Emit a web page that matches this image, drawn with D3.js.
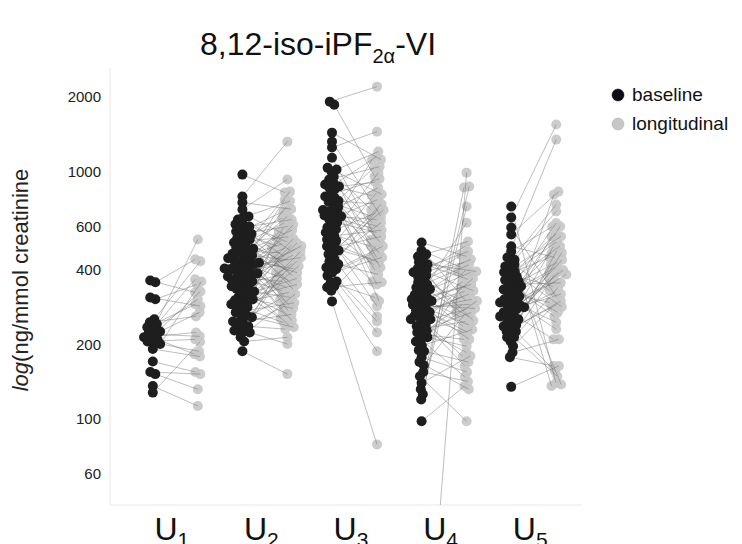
<!DOCTYPE html>
<html>
<head>
<meta charset="utf-8">
<script src="https://cdn.jsdelivr.net/npm/d3@7"></script>
<style>
    body { margin: 0; background: #fff; }
    svg { font-family: Arial, "Liberation Sans", sans-serif; }
</style>
</head>
<body>
<svg id="chart" width="742" height="544"></svg>
<script>
// groups and tick labels
var groups = ['U1', 'U2', 'U3', 'U4', 'U5'];
var yTicks = [60, 100, 200, 400, 600, 1000, 2000];

// baseline / longitudinal pairs, same order in both arrays
var u1Base = [363, 357, 310, 305, 253, 246, 242, 235, 231, 226, 224, 220, 214, 214, 210, 206, 204, 201, 192, 171, 155, 152, 136, 128];
var u1Long = [325, 442, 286, 350, 434, 260, 367, 291, 532, 270, 305, 216, 224, 328, 183, 210, 188, 360, 179, 155, 152, 132, 113, 205];

var u2Base = [972, 793, 750, 703, 659, 653, 640, 622, 612, 600,
    594, 583, 573, 560, 553, 540, 532, 528, 517, 509,
    499, 494, 488, 476, 471, 466, 458, 454, 447, 442,
    438, 434, 428, 422, 418, 414, 406, 403, 399, 395,
    392, 386, 381, 377, 370, 367, 360, 357, 350, 344,
    341, 336, 328, 325, 318, 313, 310, 305, 299, 296,
    291, 286, 283, 278, 270, 265, 262, 258, 253, 248,
    246, 240, 237, 231, 228, 226, 224, 214, 206, 188,
    560, 470, 430, 412, 388, 365, 335, 302];
var u2Long = [823, 1321, 705, 929, 560, 480, 760, 520, 410, 640,
    455, 690, 380, 600, 500, 352, 830, 430, 545, 300,
    395, 620, 335, 470, 580, 260, 440, 720, 365, 510,
    315, 490, 405, 275, 530, 340, 660, 450, 250, 570,
    420, 290, 485, 360, 240, 610, 330, 460, 385, 270,
    535, 310, 425, 255, 445, 370, 590, 280, 400, 325,
    505, 245, 345, 475, 295, 415, 235, 390, 305, 435,
    265, 375, 231, 495, 285, 355, 201, 320, 214, 152,
    650, 390, 540, 770, 460, 500, 515, 350];

var u3Base = [1916, 1862, 1436, 1321, 1250, 1138, 1035, 1019, 1000, 955,
    929, 900, 887, 860, 846, 793, 785, 760, 740, 720,
    700, 690, 684, 665, 659, 640, 622, 610, 595, 573,
    567, 550, 532, 525, 499, 494, 480, 463, 442, 434,
    422, 414, 410, 403, 380, 360, 357, 344, 341, 299,
    870, 810, 755, 705, 650, 585, 515, 470, 390, 330];
var u3Long = [2203, 955, 1117, 660, 1449, 540, 810, 1205, 700, 450,
    1047, 620, 800, 1149, 520, 935, 410, 740, 1038, 350,
    600, 860, 470, 640, 300, 771, 567, 1117, 420, 680,
    499, 580, 360, 820, 442, 547, 286, 700, 260, 622,
    384, 710, 248, 499, 471, 224, 310, 188, 357, 79,
    905, 530, 660, 400, 590, 990, 430, 740, 450, 500];

var u4Base = [517, 463, 454, 430, 422, 414, 392, 392, 374, 357,
    344, 328, 325, 305, 305, 296, 283, 270, 270, 253,
    253, 237, 231, 224, 214, 206, 188, 178, 155, 149,
    132, 126, 120, 98, 480, 445, 405, 380, 365, 350,
    335, 318, 312, 300, 290, 280, 262, 258, 245, 240,
    228, 220, 210, 198, 190, 170, 165, 400, 340, 275,
    5, 140, 300, 260];
var u4Long = [454, 300, 522, 367, 395, 270, 430, 476, 305, 442,
    258, 392, 237, 344, 210, 328, 291, 360, 224, 313,
    278, 186, 248, 270, 197, 300, 170, 155, 142, 98,
    871, 862, 723, 136, 410, 380, 330, 250, 460, 290,
    395, 260, 350, 621, 280, 240, 320, 179, 370, 164,
    290, 210, 148, 230, 340, 132, 265, 500, 420, 305,
    990, 180, 400, 225];

var u5Base = [722, 653, 594, 557, 499, 476, 450, 430, 414, 403,
    392, 377, 367, 360, 344, 341, 334, 325, 318, 313,
    305, 300, 296, 291, 286, 283, 278, 270, 265, 260,
    258, 253, 246, 237, 226, 226, 214, 214, 206, 197,
    186, 178, 135, 380, 350, 310, 440, 290, 240, 275,
    395, 330, 365, 420, 250, 232];
var u5Long = [140, 1548, 310, 830, 450, 599, 1346, 736, 284, 547,
    690, 344, 500, 138, 410, 260, 430, 620, 296, 808,
    390, 231, 471, 360, 547, 246, 499, 384, 210, 325,
    440, 470, 156, 392, 300, 380, 149, 420, 340, 283,
    210, 164, 164, 520, 355, 600, 136, 400, 480, 320,
    450, 270, 560, 330, 370, 290];

var baseSeries = [u1Base, u2Base, u3Base, u4Base, u5Base];
var longSeries = [u1Long, u2Long, u3Long, u4Long, u5Long];

var svg = d3.select('#chart');

var plotLeft = 110, plotRight = 582, plotTop = 68, plotBottom = 505;

var x = d3.scalePoint()
    .domain(groups)
    .range([130, 578])
    .padding(0.5);

var y = d3.scaleLog()
    .domain([45, 2620])
    .range([plotBottom, plotTop]);

var baseShift = -22;
var longShift = 23;
var r = 5;

// simple swarm: y fixed, x pushed apart by collision (dots may overlap a bit)
function swarm(values, cx) {
    var nodes = values.map(function (v, i) {
        return { v: v, i: i, x: cx, y: y(v), fy: y(v) };
    });
    var sim = d3.forceSimulation(nodes)
        .force('x', d3.forceX(cx).strength(0.22))
        .force('collide', d3.forceCollide(2.7))
        .stop();
    for (var k = 0; k < 300; k++) sim.tick();
    return nodes;
}

// axis lines
svg.append('line')
    .attr('x1', plotLeft).attr('x2', plotLeft)
    .attr('y1', plotTop).attr('y2', plotBottom)
    .attr('stroke', '#e8e8e8');
svg.append('line')
    .attr('x1', plotLeft).attr('x2', plotRight)
    .attr('y1', plotBottom).attr('y2', plotBottom)
    .attr('stroke', '#e8e8e8');

svg.append('clipPath')
    .attr('id', 'plotClip')
    .append('rect')
    .attr('x', plotLeft).attr('y', 60)
    .attr('width', 640 - plotLeft).attr('height', plotBottom - 60);

var plot = svg.append('g').attr('clip-path', 'url(#plotClip)');

var longLayer = plot.append('g');
var pairLayer = plot.append('g');
var baseLayer = plot.append('g');

groups.forEach(function (g, gi) {
    var cx = x(g);
    var bNodes = swarm(baseSeries[gi], cx + baseShift);
    var lNodes = swarm(longSeries[gi], cx + longShift);

    longLayer.selectAll(null)
        .data(lNodes)
        .enter()
        .append('circle')
        .attr('cx', function (d) { return d.x; })
        .attr('cy', function (d) { return d.y; })
        .attr('r', r)
        .attr('fill', '#c6c6c6')
        .attr('fill-opacity', 0.9);

    pairLayer.selectAll(null)
        .data(d3.zip(bNodes, lNodes))
        .enter()
        .append('line')
        .attr('x1', function (d) { return d[0].x; })
        .attr('y1', function (d) { return d[0].y; })
        .attr('x2', function (d) { return d[1].x; })
        .attr('y2', function (d) { return d[1].y; })
        .attr('stroke', '#6e6e6e')
        .attr('stroke-opacity', 0.75)
        .attr('stroke-width', 0.6);

    baseLayer.selectAll(null)
        .data(bNodes)
        .enter()
        .append('circle')
        .attr('cx', function (d) { return d.x; })
        .attr('cy', function (d) { return d.y; })
        .attr('r', r)
        .attr('fill', '#1e1e1e');
});

// y tick labels
var yAxis = d3.axisLeft(y)
    .tickValues(yTicks)
    .tickFormat(d3.format('d'))
    .tickSize(0)
    .tickPadding(9);

var ya = svg.append('g')
    .attr('transform', 'translate(' + plotLeft + ',0)')
    .call(yAxis);
ya.select('.domain').remove();
ya.selectAll('text')
    .attr('font-family', 'Arial, "Liberation Sans", sans-serif')
    .attr('font-size', 15)
    .attr('fill', '#222');

// y title
var yt = svg.append('text')
    .attr('transform', 'translate(28,280) rotate(-90)')
    .attr('text-anchor', 'middle')
    .attr('font-size', 22)
    .attr('fill', '#222');
yt.append('tspan').attr('font-style', 'italic').text('log');
yt.append('tspan').text('(ng/mmol creatinine');

// x labels U with subscript
groups.forEach(function (g) {
    var t = svg.append('text')
        .attr('x', x(g) - 3)
        .attr('y', 540)
        .attr('text-anchor', 'middle')
        .attr('font-size', 32)
        .attr('fill', '#111');
    t.append('tspan').text(g.charAt(0));
    t.append('tspan').attr('font-size', 21).attr('dy', 7).text(g.slice(1));
});

// title
var title = svg.append('text')
    .attr('x', 318)
    .attr('y', 55)
    .attr('text-anchor', 'middle')
    .attr('font-size', 32)
    .attr('fill', '#111');
title.append('tspan').text('8,12-iso-iPF');
title.append('tspan').attr('font-size', 20).attr('dy', 8).text('2α');
title.append('tspan').attr('dy', -8).text('-VI');

// legend
var legend = svg.append('g');
var legendItems = [
    { label: 'baseline', fill: '#0d0d16', stroke: '#000' },
    { label: 'longitudinal', fill: '#c6c6c6', stroke: '#aaa' }
];
legend.selectAll('circle')
    .data(legendItems)
    .enter()
    .append('circle')
    .attr('cx', 618)
    .attr('cy', function (d, i) { return 95 + i * 29; })
    .attr('r', 6)
    .attr('fill', function (d) { return d.fill; })
    .attr('stroke', function (d) { return d.stroke; })
    .attr('stroke-width', 0.5);
legend.selectAll('text')
    .data(legendItems)
    .enter()
    .append('text')
    .attr('x', 632)
    .attr('y', function (d, i) { return 101 + i * 29; })
    .attr('font-size', 19)
    .attr('fill', '#111')
    .text(function (d) { return d.label; });
</script>
</body>
</html>
